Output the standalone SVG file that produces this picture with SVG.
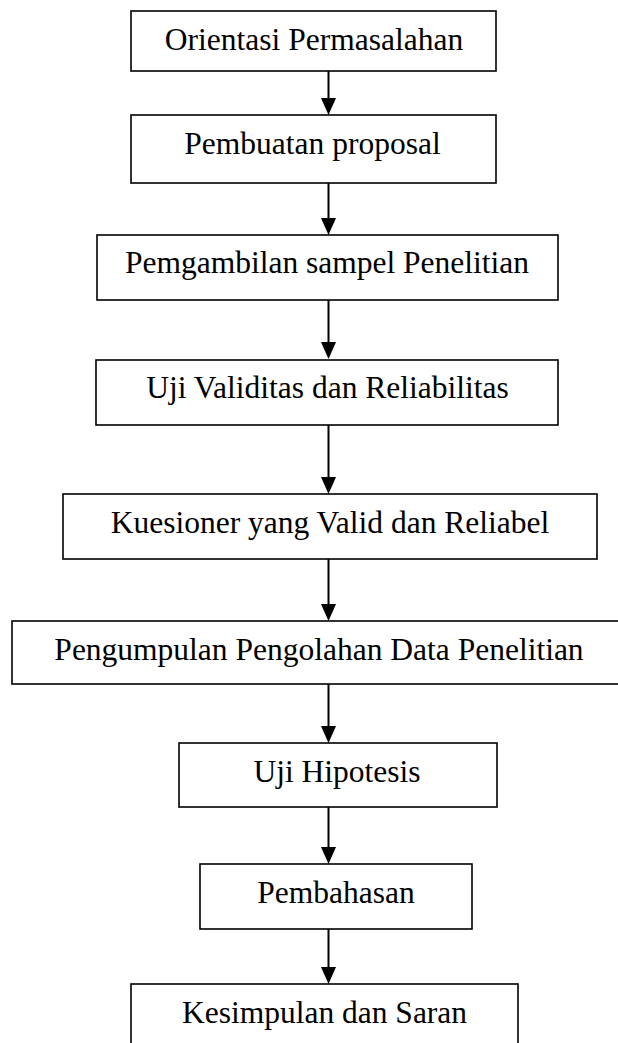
<svg xmlns="http://www.w3.org/2000/svg" width="618" height="1043" viewBox="0 0 618 1043">
<style>
.box{fill:#fff;stroke:#000;stroke-width:1.6}
.lbl{font-family:"Liberation Serif","Times New Roman",serif;font-size:31.5px;fill:#000;text-anchor:middle}
.conn{stroke:#000;stroke-width:2;fill:none}
</style>
<defs>
<marker id="ah" markerUnits="userSpaceOnUse" markerWidth="17" markerHeight="15" viewBox="0 0 17 15" refX="9" refY="7.5" orient="auto">
<path d="M0,0 L17,7.5 L0,15 Z" fill="#000"/>
</marker>
</defs>
<rect width="618" height="1043" fill="#fff"/>
<g id="connectors">
<line class="conn" x1="328.5" y1="71" x2="328.5" y2="107" marker-end="url(#ah)"/>
<line class="conn" x1="328.5" y1="183" x2="328.5" y2="227" marker-end="url(#ah)"/>
<line class="conn" x1="328.5" y1="300" x2="328.5" y2="351" marker-end="url(#ah)"/>
<line class="conn" x1="328.5" y1="425" x2="328.5" y2="486" marker-end="url(#ah)"/>
<line class="conn" x1="328.5" y1="559" x2="328.5" y2="613" marker-end="url(#ah)"/>
<line class="conn" x1="328.5" y1="684" x2="328.5" y2="735" marker-end="url(#ah)"/>
<line class="conn" x1="328.5" y1="807" x2="328.5" y2="856" marker-end="url(#ah)"/>
<line class="conn" x1="328.5" y1="929" x2="328.5" y2="976" marker-end="url(#ah)"/>
</g>
<g id="n1"><rect class="box" x="131" y="11" width="365" height="60"/><text class="lbl" x="314" y="50">Orientasi Permasalahan</text></g>
<g id="n2"><rect class="box" x="131" y="115" width="365" height="68"/><text class="lbl" x="312.5" y="154">Pembuatan proposal</text></g>
<g id="n3"><rect class="box" x="97" y="235" width="461" height="65"/><text class="lbl" x="327" y="273">Pemgambilan sampel Penelitian</text></g>
<g id="n4"><rect class="box" x="96" y="360" width="462" height="65"/><text class="lbl" x="327.5" y="398">Uji Validitas dan Reliabilitas</text></g>
<g id="n5"><rect class="box" x="63" y="494" width="534" height="65"/><text class="lbl" x="330" y="533">Kuesioner yang Valid dan Reliabel</text></g>
<g id="n6"><rect class="box" x="12" y="621" width="614" height="63"/><text class="lbl" x="319" y="660">Pengumpulan Pengolahan Data Penelitian</text></g>
<g id="n7"><rect class="box" x="179" y="743" width="318" height="64"/><text class="lbl" x="337" y="782">Uji Hipotesis</text></g>
<g id="n8"><rect class="box" x="200" y="864" width="272" height="65"/><text class="lbl" x="336" y="903">Pembahasan</text></g>
<g id="n9"><rect class="box" x="131" y="984" width="387" height="70"/><text class="lbl" x="324.5" y="1023">Kesimpulan dan Saran</text></g>
</svg>
